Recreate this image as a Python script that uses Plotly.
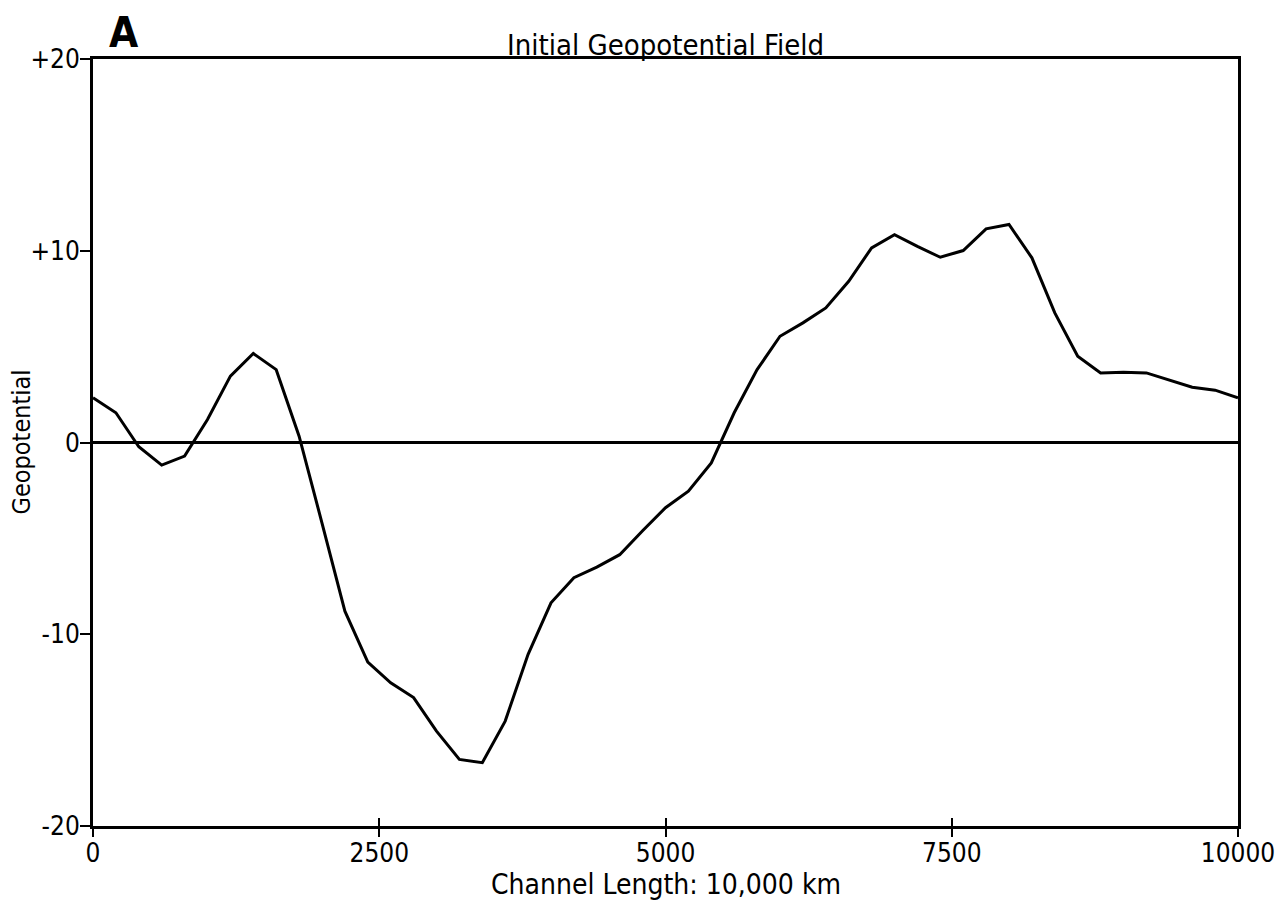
import plotly.graph_objects as go

# Channel position (km) and geopotential values
x_km = list(range(0, 10001, 200))
geopotential = [
    2.33, 1.55, -0.22, -1.18, -0.71, 1.2, 3.46, 4.64, 3.8, 0.33,
    -4.2, -8.8, -11.45, -12.53, -13.3, -15.05, -16.53, -16.7, -14.53, -11.05,
    -8.36, -7.05, -6.5, -5.85, -4.6, -3.4, -2.54, -1.06, 1.55, 3.8,
    5.54, 6.24, 7.02, 8.41, 10.15, 10.84, 10.23, 9.66, 10.01, 11.14,
    11.37, 9.63, 6.76, 4.5, 3.63, 3.67, 3.63, 3.25, 2.88, 2.73, 2.33,
]

x_tick_vals = [0, 2500, 5000, 7500, 10000]
x_tick_text = ["0", "2500", "5000", "7500", "10000"]
y_tick_vals = [20, 10, 0, -10, -20]
y_tick_text = ["+20", "+10", "0", "-10", "-20"]

FONT = "DejaVu Sans Condensed, DejaVu Sans, sans-serif"

fig = go.Figure()
fig.add_trace(go.Scatter(
    x=x_km, y=geopotential, mode="lines",
    line=dict(color="black", width=3), showlegend=False, hoverinfo="skip",
))
# invisible trace to activate overlay axes (inner tick marks)
fig.add_trace(go.Scatter(x=[0, 10000], y=[-20, 20], xaxis="x2", yaxis="y2",
                         mode="markers", marker=dict(opacity=0), showlegend=False,
                         hoverinfo="skip"))

axis_common = dict(showgrid=False, linecolor="black", linewidth=3,
                   tickcolor="black", tickwidth=2, color="black", automargin=False)

fig.update_layout(
    width=1277, height=894,
    paper_bgcolor="white", plot_bgcolor="white",
    margin=dict(l=85, r=47, t=51, b=76, autoexpand=False),
    font=dict(family=FONT, color="black", size=26),
    xaxis=dict(range=[0, 10000], tickvals=x_tick_vals, ticktext=x_tick_text,
               ticks="outside", ticklen=8, mirror=True, showline=True,
               zeroline=False, tickfont=dict(size=26), ticklabelstandoff=-6,
               **axis_common),
    yaxis=dict(range=[-20, 20], tickvals=y_tick_vals, ticktext=y_tick_text,
               ticks="outside", ticklen=10, mirror=True, showline=True,
               zeroline=True, zerolinecolor="black", zerolinewidth=2.5,
               tickfont=dict(size=26), ticklabelstandoff=-5,
               **axis_common),
    xaxis2=dict(range=[0, 10000], overlaying="x", side="bottom", tickvals=x_tick_vals,
                showticklabels=False, ticks="inside", ticklen=8, showline=False,
                showgrid=False, zeroline=False, tickcolor="black", tickwidth=2),
    yaxis2=dict(range=[-20, 20], overlaying="y", side="left", tickvals=[0, -20],
                showticklabels=False, ticks="inside", ticklen=7, showline=False,
                showgrid=False, zeroline=False, tickcolor="black", tickwidth=2),
    annotations=[
        dict(text="Initial Geopotential Field", xref="paper", yref="paper",
             x=0.5, y=1.0, xanchor="center", yanchor="middle", showarrow=False,
             font=dict(size=29, family=FONT), yshift=14),
        dict(text="Channel Length: 10,000 km", xref="paper", yref="paper",
             x=0.5, y=0.0, xanchor="center", yanchor="middle", showarrow=False,
             font=dict(size=28, family=FONT), yshift=-58),
        dict(text="Geopotential", xref="paper", yref="paper", textangle=-90,
             x=0.0, y=0.5, xanchor="center", yanchor="middle", showarrow=False,
             font=dict(size=25, family=FONT), xshift=-72),
        dict(text="<b>A</b>", xref="paper", yref="paper", x=0.0, y=1.0,
             xanchor="left", yanchor="bottom", showarrow=False,
             font=dict(size=42, family=FONT), xshift=14, yshift=0),
    ],
)

fig.write_html("out.html")
